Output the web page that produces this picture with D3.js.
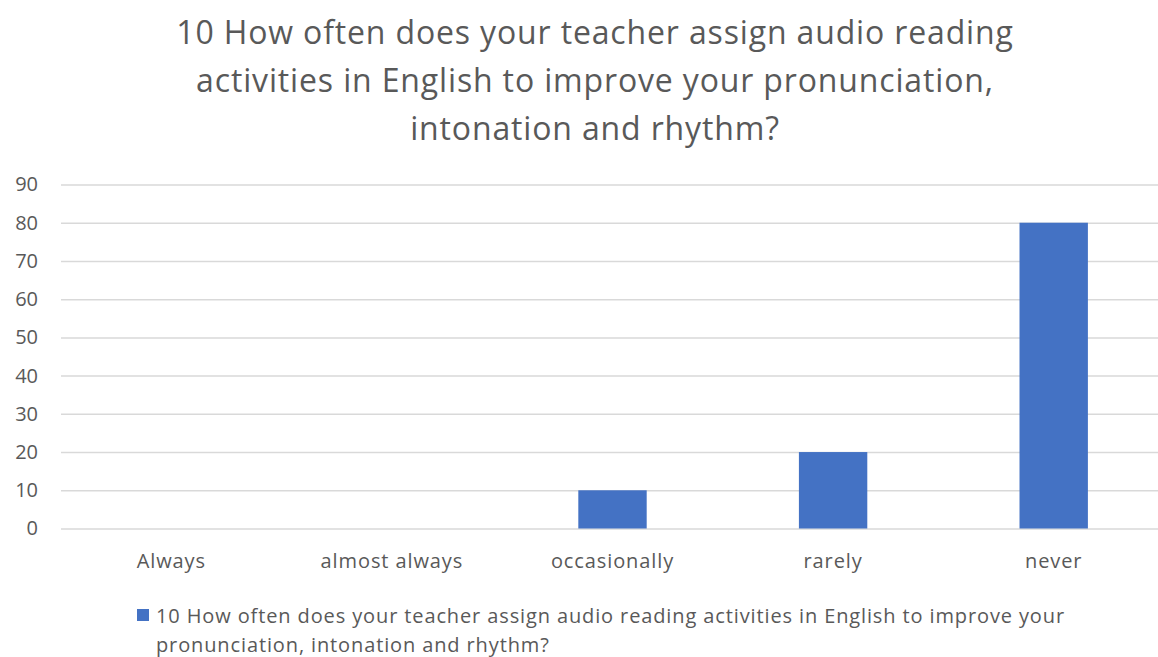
<!DOCTYPE html>
<html><head><meta charset="utf-8">
<script src="https://cdn.jsdelivr.net/npm/d3@7"></script>
<style>body{margin:0;background:#fff;}svg{display:block;font-family:"Open Sans",sans-serif;}</style>
</head><body><svg id="c" width="1158" height="657"></svg>
<script>
const titleLines = ["10 How often does your teacher assign audio reading","activities in English to improve your pronunciation,","intonation and rhythm?"];
const categories = ["Always","almost always","occasionally","rarely","never"];
const values = [0,0,10,20,80];
const yTicks = [0,10,20,30,40,50,60,70,80,90];
const legendLines = ["10 How often does your teacher assign audio reading activities in English to improve your","pronunciation, intonation and rhythm?"];

const svg = d3.select("#c");
const FONT = "'Open Sans',sans-serif";
const plotL = 61, plotR = 1164, plotT = 184.5, plotB = 528.5;
const x = d3.scaleBand().domain(categories).range([plotL,plotR]).paddingInner(0.69).paddingOuter(0.345);
const y = d3.scaleLinear().domain([0,90]).range([plotB,plotT]);
const txt = "#595959";

svg.append("g").selectAll("text").data(titleLines).join("text")
  .attr("x",595).attr("y",(d,i)=>43.5+i*48).attr("text-anchor","middle")
  .attr("font-size",32).attr("letter-spacing",0.85).attr("fill",txt).text(d=>d);

const yAxis = d3.axisLeft(y).tickValues(yTicks).tickSize(-(plotR-plotL)).tickPadding(23);
const gy = svg.append("g").attr("transform",`translate(${plotL},0)`).call(yAxis);
gy.select(".domain").remove();
gy.selectAll("line").attr("stroke","#d9d9d9").attr("stroke-width",1.5);
gy.selectAll("text").attr("font-size",20).attr("fill",txt).attr("font-family",FONT);

svg.append("g").selectAll("rect").data(values).join("rect")
  .attr("x",(d,i)=>x(categories[i])).attr("width",x.bandwidth())
  .attr("y",d=>y(d)).attr("height",d=>plotB-y(d)).attr("fill","#4472C4");

const xAxis = d3.axisBottom(x).tickSize(0).tickPadding(25);
const gx = svg.append("g").attr("transform",`translate(0,${plotB})`).call(xAxis);
gx.select(".domain").remove();
gx.selectAll("text").attr("font-size",20).attr("letter-spacing",0.9).attr("fill",txt).attr("font-family",FONT);

svg.append("rect").attr("x",137).attr("y",609).attr("width",12).attr("height",12).attr("fill","#4472C4");
svg.append("g").selectAll("text").data(legendLines).join("text")
  .attr("x",156).attr("y",(d,i)=>623+i*29).attr("font-size",20).attr("letter-spacing",0.88).attr("fill",txt).text(d=>d);
</script></body></html>
